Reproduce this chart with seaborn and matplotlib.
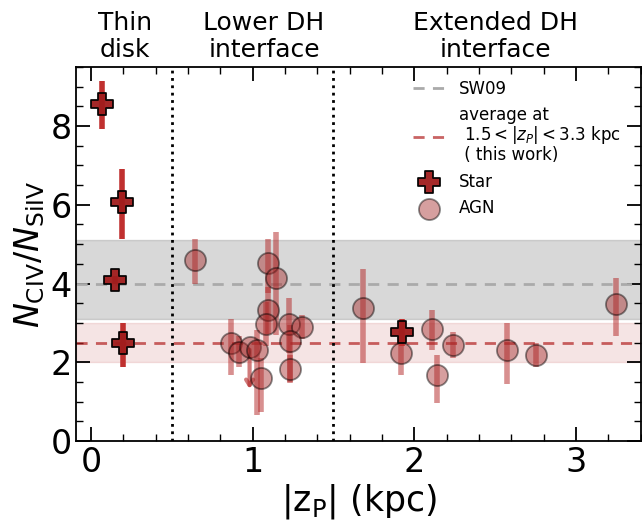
import numpy as np
import pandas as pd
import matplotlib
matplotlib.use("Agg")
import matplotlib.pyplot as plt
import seaborn as sns
from matplotlib.ticker import MultipleLocator

# Stellar sight lines
star_z = [0.066, 0.19, 0.148, 0.20, 1.926]
star_ratio = [8.55, 6.07, 4.09, 2.50, 2.77]
star_err_lo = [0.62, 0.94, 0.10, 0.62, 0.35]
star_err_hi = [0.60, 0.83, 0.10, 0.50, 0.33]

# AGN sight lines
agn_z = [0.646, 1.095, 1.146, 1.095, 1.08, 1.222, 1.307, 1.233, 1.233,
         0.866, 0.916, 0.981, 1.027, 1.049,
         1.685, 1.918, 2.107, 2.237, 2.14, 2.576, 2.755, 3.245]
agn_ratio = [4.59, 4.51, 4.15, 3.32, 2.97, 2.97, 2.90, 2.55, 1.83,
             2.50, 2.26, 2.39, 2.31, 1.61,
             3.37, 2.23, 2.84, 2.45, 1.68, 2.31, 2.18, 3.48]
agn_err_lo = [0.59, 0.76, 1.46, 0.60, 0.55, 0.74, 0.30, 1.05, 0.35,
              0.83, 0.37, 0.00, 1.65, 0.87,
              1.40, 0.56, 0.53, 0.35, 0.72, 0.86, 0.30, 0.82]
agn_err_hi = [0.55, 0.61, 1.16, 0.60, 0.55, 0.65, 0.30, 0.40, 0.35,
              0.59, 0.40, 0.00, 0.51, 0.50,
              1.01, 0.57, 0.48, 0.32, 0.50, 0.68, 0.30, 0.65]
# upper limit (index in the AGN list) and the arrow length
agn_limit_idx = 11
agn_limit_len = 1.14

# reference levels
sw09_mean, sw09_lo, sw09_hi = 4.0, 3.1, 5.1
avg_mean, avg_lo, avg_hi = 2.5, 2.0, 3.0
region_edges = [0.5, 1.5]
region_labels = ["Thin\ndisk", "Lower DH\ninterface", "Extended DH\ninterface"]
region_centers = [0.21, 1.07, 2.5]

star_df = pd.DataFrame({"z": star_z, "ratio": star_ratio})
agn_df = pd.DataFrame({"z": agn_z, "ratio": agn_ratio})

sns.set_style("ticks", rc={"axes.edgecolor": "black", "text.color": "black",
                           "axes.labelcolor": "black", "xtick.color": "black",
                           "ytick.color": "black"})
plt.rcParams["font.family"] = ["DejaVu Sans"]
plt.rcParams["mathtext.fontset"] = "dejavusans"

fig = plt.figure(figsize=(6.42, 5.22), dpi=100)
ax = fig.add_axes([0.119, 0.155, 0.879, 0.717])

red = "#b22222"
ax.axhspan(sw09_lo, sw09_hi, color="gray", alpha=0.3, lw=1, zorder=0)
ax.axhspan(avg_lo, avg_hi, facecolor=red, alpha=0.12, edgecolor=red, lw=1, zorder=0)
ax.axhline(sw09_mean, color="#aaaaaa", ls="--", lw=2, dashes=(4, 3), zorder=1, label="SW09")
ax.axhline(avg_mean, color=red, alpha=0.7, ls="--", lw=2, dashes=(4, 3), zorder=1,
           label="average at\n $1.5 < |z_P| < 3.3$ kpc\n ( this work)")
for xe in region_edges:
    ax.axvline(xe, color="black", ls=":", lw=2, zorder=1)

# AGN error bars
agn_lo = np.array(agn_err_lo)
agn_hi = np.array(agn_err_hi)
ax.errorbar(agn_z, agn_ratio, yerr=[agn_lo, agn_hi], fmt="none",
            ecolor=red, elinewidth=4, alpha=0.5, zorder=2)
ax.annotate("", xy=(agn_z[agn_limit_idx], agn_ratio[agn_limit_idx] - agn_limit_len),
            xytext=(agn_z[agn_limit_idx], agn_ratio[agn_limit_idx]),
            arrowprops=dict(arrowstyle="->,head_width=0.25,head_length=0.4",
                            color=red, alpha=0.6, lw=3),
            zorder=2)

sns.scatterplot(data=agn_df, x="z", y="ratio", ax=ax, marker="o", s=230,
                color="#a52a2a", alpha=0.45, edgecolor="black", linewidth=1.3,
                zorder=3, label="AGN")

# star error bars
ax.errorbar(star_z, star_ratio, yerr=[star_err_lo, star_err_hi], fmt="none",
            ecolor="#c0302f", elinewidth=4, zorder=4)
sns.scatterplot(data=star_df, x="z", y="ratio", ax=ax, marker="P", s=250,
                color="#a01c1c", edgecolor="black", linewidth=1.3, alpha=0.95,
                zorder=5, label="Star")

ax.set_xlim(-0.09, 3.4)
ax.set_ylim(0, 9.5)
ax.xaxis.set_major_locator(MultipleLocator(1))
ax.xaxis.set_minor_locator(MultipleLocator(0.2))
ax.yaxis.set_major_locator(MultipleLocator(2))
ax.yaxis.set_minor_locator(MultipleLocator(0.5))
ax.tick_params(which="both", direction="in", top=True, right=True, labelsize=24)
ax.tick_params(which="major", length=10, width=1.3)
ax.tick_params(which="minor", length=5, width=1)
for sp in ax.spines.values():
    sp.set_linewidth(1.3)

ax.set_xlabel(r"$|\mathrm{z}_\mathrm{P}|$ (kpc)", fontsize=25, labelpad=2)
ax.set_ylabel(r"$N_{\rm CIV}/N_{\rm SiIV}$", fontsize=24, labelpad=2)

for xc, txt in zip(region_centers, region_labels):
    ax.text(xc, 1.012, txt, transform=ax.get_xaxis_transform(), ha="center",
            va="bottom", fontsize=18, linespacing=1.15)

h, l = ax.get_legend_handles_labels()
order = ["SW09", l[1], "Star", "AGN"]
hd = dict(zip(l, h))
leg = ax.legend([hd[k] for k in order], order, loc="upper right", frameon=False,
                fontsize=12, handlelength=2.0, borderaxespad=0.4,
                bbox_to_anchor=(0.989, 1.0))
for t in leg.get_texts():
    t.set_linespacing(1.0)

fig.savefig("out.png", dpi=100)
